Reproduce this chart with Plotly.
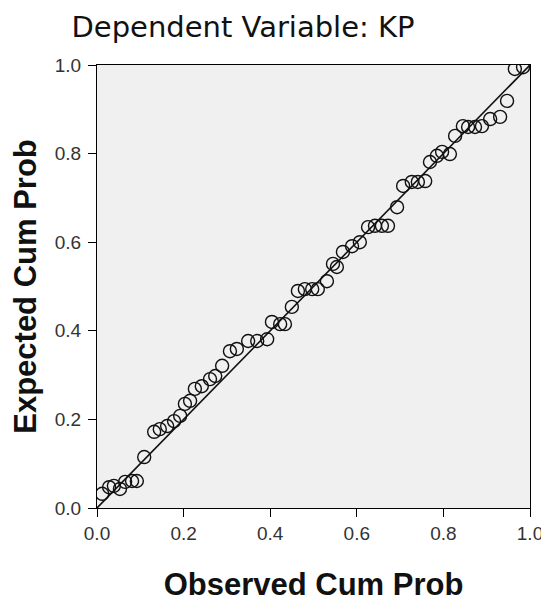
import plotly.graph_objects as go

# Observed cumulative probability (x) and expected cumulative probability (y)
observed_cum_prob = [
    0.012, 0.028, 0.039, 0.053, 0.065, 0.081, 0.092, 0.109, 0.132, 0.145,
    0.162, 0.178, 0.192, 0.203, 0.215, 0.226, 0.242, 0.261, 0.273, 0.289,
    0.307, 0.323, 0.349, 0.370, 0.393, 0.404, 0.423, 0.434, 0.450, 0.464,
    0.480, 0.497, 0.510, 0.531, 0.545, 0.554, 0.568, 0.589, 0.607, 0.626,
    0.642, 0.658, 0.672, 0.693, 0.707, 0.727, 0.741, 0.758, 0.769, 0.785,
    0.797, 0.815, 0.827, 0.845, 0.857, 0.873, 0.889, 0.908, 0.931, 0.947,
    0.965, 0.984,
]
expected_cum_prob = [
    0.032, 0.047, 0.050, 0.043, 0.059, 0.061, 0.061, 0.115, 0.172, 0.178,
    0.185, 0.196, 0.208, 0.235, 0.242, 0.269, 0.275, 0.291, 0.298, 0.321,
    0.354, 0.359, 0.377, 0.377, 0.381, 0.420, 0.415, 0.415, 0.454, 0.490,
    0.494, 0.494, 0.494, 0.512, 0.551, 0.544, 0.578, 0.591, 0.600, 0.634,
    0.637, 0.637, 0.637, 0.679, 0.727, 0.736, 0.736, 0.738, 0.781, 0.795,
    0.804, 0.799, 0.840, 0.862, 0.860, 0.860, 0.862, 0.878, 0.883, 0.919,
    0.991, 0.995,
]
reference_line = [0.0, 1.0]
tick_values = [0.0, 0.2, 0.4, 0.6, 0.8, 1.0]
tick_labels = ["0.0", "0.2", "0.4", "0.6", "0.8", "1.0"]

FONT = "Liberation Sans, Arial, sans-serif"

# The page body has a default 8px margin, so the figure is sized to fit
# the 549x603 window after that offset.
W, H = 541, 595

fig = go.Figure()
fig.add_trace(go.Scatter(
    x=observed_cum_prob, y=expected_cum_prob, mode="markers",
    marker=dict(symbol="circle-open", size=13, color="#111111",
                line=dict(width=1.4, color="#111111")),
    showlegend=False, hoverinfo="x+y",
))
fig.add_trace(go.Scatter(
    x=reference_line, y=reference_line, mode="lines",
    line=dict(color="#111111", width=1.6),
    showlegend=False, hoverinfo="skip",
))

axis_common = dict(
    range=[0, 1], tickvals=tick_values, ticktext=tick_labels,
    showgrid=False, zeroline=False, showline=True, linecolor="#000000",
    linewidth=1.2, mirror=True, ticks="outside", ticklen=8, tickwidth=1.2,
    tickcolor="#000000", tickfont=dict(family=FONT, size=19, color="#333333"),
    ticklabeloverflow="allow", fixedrange=True,
)

fig.update_layout(
    width=W, height=H,
    margin=dict(l=89, r=19, t=57, b=95, autoexpand=False),
    paper_bgcolor="#ffffff", plot_bgcolor="#f0f0f0",
    font=dict(family=FONT, color="#000000"),
    title=dict(text="Dependent Variable: KP", x=235 / W, xanchor="center",
               xref="container", y=1 - 19 / H, yanchor="middle",
               yref="container",
               font=dict(family="DejaVu Sans, sans-serif", size=29,
                         color="#111111")),
    xaxis=dict(**axis_common,
               title=dict(text="<b>Observed Cum Prob</b>", standoff=30,
                          font=dict(family=FONT, size=31, color="#111111"))),
    yaxis=dict(**axis_common, ticklabelstandoff=3,
               title=dict(text="<b>Expected Cum Prob</b>", standoff=17,
                          font=dict(family=FONT, size=31, color="#111111"))),
)

fig.write_html("out.html")
